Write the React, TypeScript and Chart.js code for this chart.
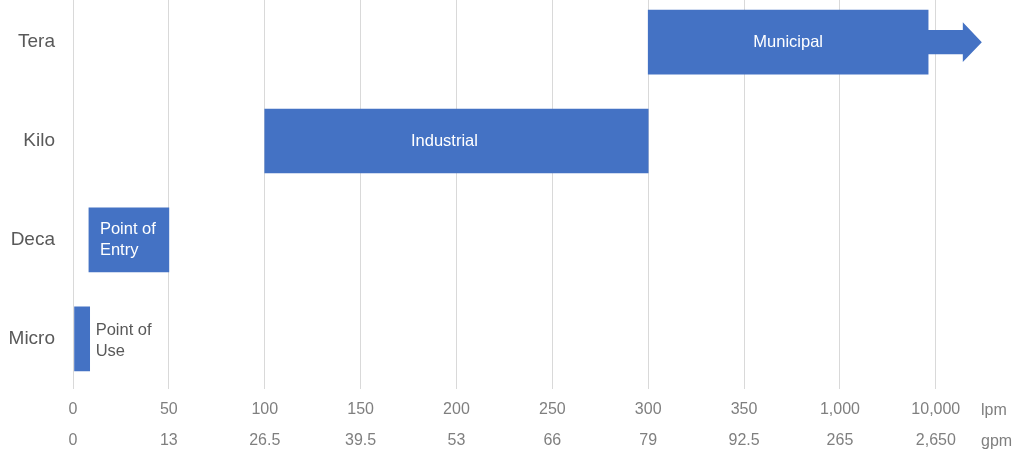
import React, { useEffect, useRef } from "react";
import { Chart, registerables } from "chart.js";

Chart.register(...registerables);

// ---- data ----
const categories = ["Micro", "Deca", "Kilo", "Tera"];
const rangeStart = [0.8, 8.3, 100, 300];
const rangeEnd = [8.7, 50, 300, 446];
const barLabels = [["Point of", "Use"], ["Point of", "Entry"], ["Industrial"], ["Municipal"]];
const arrowTip = 474; // Tera bar continues (open-ended) to here
const tickValues = [0, 50, 100, 150, 200, 250, 300, 350, 400, 450];
const lpmLabels = ["0", "50", "100", "150", "200", "250", "300", "350", "1,000", "10,000"];
const gpmLabels = ["0", "13", "26.5", "39.5", "53", "66", "79", "92.5", "265", "2,650"];
const unitLabels = ["lpm", "gpm"];

// ---- style ----
const BAR_COLOR = "#4472C4";
const FONT = "'Liberation Sans', Arial, sans-serif";
const labelPlacement = ["outside", "insideLeft", "center", "center"];

const barLabelPlugin = {
  id: "barLabels",
  afterDatasetsDraw(chart: any) {
    const ctx = chart.ctx;
    const meta = chart.getDatasetMeta(0);
    const xs = chart.scales.x;
    ctx.save();
    meta.data.forEach((el: any, i: number) => {
      const { x, y, base, height } = el.getProps(["x", "y", "base", "height"], true);
      // arrow on Tera bar
      if (i === 3) {
        const tip = xs.getPixelForValue(arrowTip);
        const headStart = tip - 19;
        const shaftH = height * 0.19;
        const headH = height * 0.31;
        ctx.fillStyle = BAR_COLOR;
        ctx.beginPath();
        ctx.moveTo(x - 1, y - shaftH);
        ctx.lineTo(headStart, y - shaftH);
        ctx.lineTo(headStart, y - headH);
        ctx.lineTo(tip, y);
        ctx.lineTo(headStart, y + headH);
        ctx.lineTo(headStart, y + shaftH);
        ctx.lineTo(x - 1, y + shaftH);
        ctx.closePath();
        ctx.fill();
      }
      const lines = barLabels[i];
      const lh = 21;
      ctx.font = `16.5px ${FONT}`;
      ctx.textBaseline = "middle";
      let tx: number;
      const place = labelPlacement[i];
      if (place === "outside") {
        ctx.fillStyle = "#595959";
        ctx.textAlign = "left";
        tx = Math.max(x, base) + 6;
      } else if (place === "insideLeft") {
        ctx.fillStyle = "#ffffff";
        ctx.textAlign = "left";
        tx = Math.min(x, base) + 11;
      } else {
        ctx.fillStyle = "#ffffff";
        ctx.textAlign = "center";
        tx = (x + base) / 2 - (i === 2 ? 12 : 0);
      }
      const y0 = y - ((lines.length - 1) * lh) / 2 + (place === "outside" ? 2 : 0);
      lines.forEach((t, k) => ctx.fillText(t, tx, y0 + k * lh));
    });
    // unit labels on the x axis
    const xa = chart.scales.x;
    ctx.fillStyle = "#7f7f7f";
    ctx.font = `16px ${FONT}`;
    ctx.textAlign = "left";
    ctx.textBaseline = "middle";
    unitLabels.forEach((u, k) => ctx.fillText(u, 981, xa.top + 21.5 + k * 31));
    ctx.restore();
  },
};

export default function App() {
  const ref = useRef<HTMLCanvasElement>(null);
  useEffect(() => {
    if (!ref.current) return;
    const chart = new Chart(ref.current, {
      type: "bar",
      data: {
        datasets: [
          {
            data: categories.map((_, i) => ({ x: [rangeStart[i], rangeEnd[i]], y: i })) as any,
            backgroundColor: BAR_COLOR,
            borderWidth: 0,
            borderSkipped: false,
            barThickness: 64,
          },
        ],
      },
      plugins: [barLabelPlugin],
      options: {
        indexAxis: "y",
        animation: false,
        responsive: false,
        maintainAspectRatio: false,
        layout: { padding: 0, autoPadding: false },
        plugins: { legend: { display: false }, tooltip: { enabled: false } },
        scales: {
          x: {
            type: "linear",
            min: 0,
            max: 496,
            offset: false,
            afterBuildTicks: (s: any) => {
              s.ticks = tickValues.map((v) => ({ value: v }));
            },
            afterFit: (s: any) => {
              s.height = 71;
              s.paddingLeft = 0;
              s.paddingRight = 0;
            },
            grid: { color: "#d9d9d9", lineWidth: 1, drawTicks: false, offset: false },
            border: { display: false },
            ticks: {
              padding: 5.5,
              color: "#7f7f7f",
              font: { family: FONT, size: 16, lineHeight: 1.94 },
              maxRotation: 0,
              autoSkip: false,
              callback: (v: any) => {
                const i = tickValues.indexOf(Number(v));
                return i >= 0 ? [lpmLabels[i], gpmLabels[i]] : "";
              },
            },
          },
          y: {
            type: "linear",
            min: -0.507,
            max: 3.426,
            offset: false,
            afterBuildTicks: (s: any) => {
              s.ticks = categories.map((_, i) => ({ value: i }));
            },
            afterFit: (s: any) => {
              s.width = 73;
              s.paddingTop = 0;
              s.paddingBottom = 0;
            },
            grid: { display: false, drawTicks: false, offset: false },
            border: { display: false },
            ticks: {
              padding: 18,
              color: "#595959",
              font: { family: FONT, size: 19 },
              autoSkip: false,
              callback: (v: any) => categories[Number(v)] ?? "",
            },
          },
        },
      } as any,
    });
    return () => chart.destroy();
  }, []);
  return (
    <div style={{ position: "fixed", left: 0, top: 0, width: 1024, height: 460, background: "#fff" }}>
      <canvas ref={ref} width={1024} height={460} style={{ width: 1024, height: 460 }} />
    </div>
  );
}
